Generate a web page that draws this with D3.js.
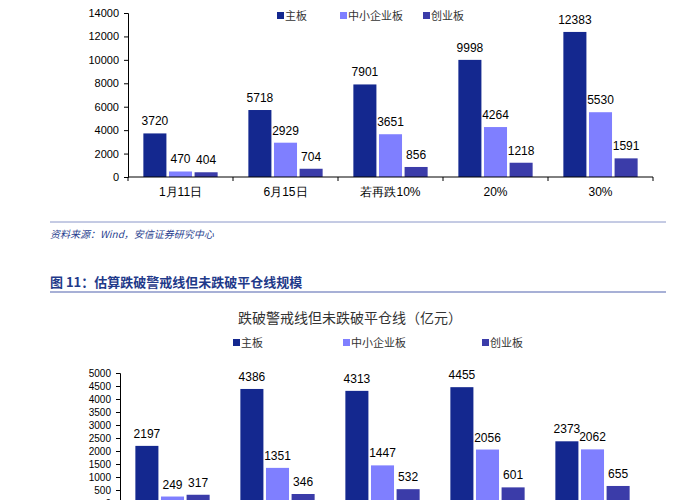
<!DOCTYPE html>
<html><head><meta charset="utf-8">
<script src="https://cdn.jsdelivr.net/npm/d3@7"></script>
<style>
body{margin:0;background:#fff;font-family:"Liberation Sans",Arial,sans-serif;}
.axis text{font-size:11px;fill:#000;}
</style></head>
<body><svg id="c" width="700" height="500"></svg>
<script>
const series = ["主板", "中小企业板", "创业板"];
const colors = ["#14288f", "#7f7fff", "#3b3ca9"];
const topCats = ["1月11日", "6月15日", "若再跌10%", "20%", "30%"];
const topMain = [3720, 5718, 7901, 9998, 12383];
const topSme = [470, 2929, 3651, 4264, 5530];
const topGem = [404, 704, 856, 1218, 1591];
const topTicks = [0, 2000, 4000, 6000, 8000, 10000, 12000, 14000];
const botMain = [2197, 4386, 4313, 4455, 2373];
const botSme = [249, 1351, 1447, 2056, 2062];
const botGem = [317, 346, 532, 601, 655];
const botTicks = d3.range(0, 5001, 500);

const svg = d3.select("#c");

function chart(opt) {
    let g = svg.append("g");
    let x = d3.scaleBand().domain(opt.cats).range([opt.x0, opt.x1]);
    let inner = d3.scaleBand().domain(series).range([0, x.bandwidth()]).paddingInner(0.1).paddingOuter(0.6);
    let y = d3.scaleLinear().domain([0, opt.max]).range([opt.y0, opt.y1]);
    let yaxis = d3.axisLeft(y).tickValues(opt.ticks).tickFormat(d3.format("d")).tickSize(4).tickPadding(5);
    let ga = g.append("g").attr("class", "axis").attr("transform", `translate(${opt.x0},0)`).call(yaxis);
    ga.selectAll("text").style("font-size", opt.fs + "px");
    let data = [];
    opt.vals.forEach((arr, s) => arr.forEach((v, i) => data.push({ s: s, c: opt.cats[i], v: v })));
    g.selectAll("rect").data(data).join("rect")
        .attr("x", d => x(d.c) + inner(series[d.s]))
        .attr("y", d => y(d.v))
        .attr("width", inner.bandwidth())
        .attr("height", d => opt.y0 - y(d.v))
        .attr("fill", d => colors[d.s]);
    g.selectAll(".lbl").data(data).join("text").attr("class", "lbl")
        .attr("x", d => x(d.c) + inner(series[d.s]) + inner.bandwidth() / 2)
        .attr("y", d => y(d.v) - 8)
        .attr("text-anchor", "middle").style("font-size", "12px").text(d => d.v);
    // x axis
    let gx = g.append("g").attr("transform", `translate(0,${opt.y0})`);
    gx.append("line").attr("x1", opt.x0).attr("x2", opt.x1).attr("stroke", "#000");
    gx.selectAll(".t").data(opt.cats.map(c => x(c)).concat([opt.x1])).join("line")
        .attr("x1", d => d).attr("x2", d => d).attr("y2", 4).attr("stroke", "#000");
    if (opt.showCats) {
        gx.selectAll(".cl").data(opt.cats).join("text").attr("class", "cl")
            .attr("x", d => x(d) + x.bandwidth() / 2).attr("y", 19)
            .attr("text-anchor", "middle").style("font-size", "12px").text(d => d);
    }
    // legend
    let lg = g.append("g");
    series.forEach((s, i) => {
        lg.append("rect").attr("x", opt.leg[i]).attr("y", opt.legY - 4).attr("width", 7).attr("height", 7).attr("fill", colors[i]);
        lg.append("text").attr("x", opt.leg[i] + 8).attr("y", opt.legY + 4)
            .style("font-size", "11px").style("font-family", "Noto Sans CJK SC").attr("fill", "#333").text(s);
    });
}

chart({ cats: topCats, vals: [topMain, topSme, topGem], x0: 128, x1: 653, y0: 177, y1: 13, max: 14000,
        ticks: topTicks, fs: 11, showCats: true, leg: [277, 340, 423], legY: 16 });

svg.append("line").attr("x1", 50).attr("x2", 666).attr("y1", 222).attr("y2", 222).attr("stroke", "#8a96c8");
svg.append("text").attr("x", 50).attr("y", 238).style("font-size", "10px").style("font-style", "italic")
    .style("font-family", "Noto Sans CJK SC").attr("fill", "#2a3f8f").text("资料来源：Wind，安信证券研究中心");

svg.append("text").attr("x", 50).attr("y", 287).style("font-size", "13px").style("font-weight", "bold")
    .style("font-family", "Noto Sans CJK SC").attr("fill", "#1f3a8a").text("图 11：估算跌破警戒线但未跌破平仓线规模");
svg.append("line").attr("x1", 50).attr("x2", 666).attr("y1", 292).attr("y2", 292).attr("stroke", "#8a96c8").attr("stroke-width", 1.5);
svg.append("text").attr("x", 350).attr("y", 323).attr("text-anchor", "middle").style("font-size", "14px")
    .style("font-family", "Noto Sans CJK SC").attr("fill", "#333").text("跌破警戒线但未跌破平仓线（亿元）");

chart({ cats: topCats, vals: [botMain, botSme, botGem], x0: 120, x1: 645, y0: 503, y1: 373, max: 5000,
        ticks: botTicks, fs: 10, showCats: false, leg: [233, 343, 482], legY: 343 });
</script></body></html>
